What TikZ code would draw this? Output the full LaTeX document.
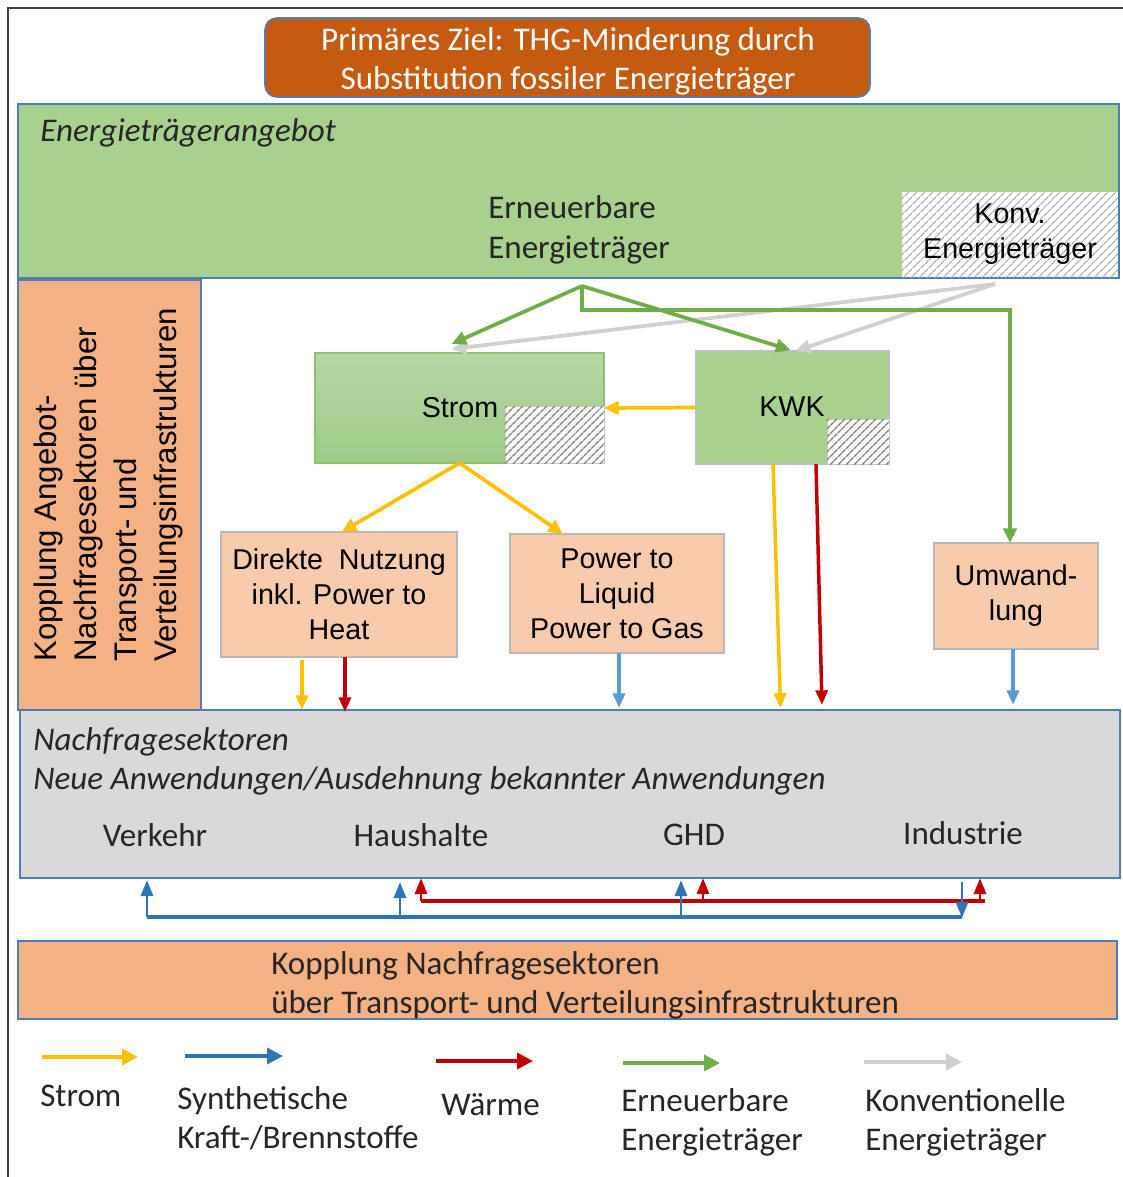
\documentclass[tikz,border=0pt]{standalone}
\usepackage{fontspec}
\setmainfont{Carlito}
\newfontfamily\arialf{Liberation Sans}
\usetikzlibrary{arrows.meta,patterns.meta,calc}
\definecolor{titleor}{HTML}{C55A11}
\definecolor{bblue}{HTML}{4F7DB5}
\definecolor{grn}{HTML}{A9D18E}
\definecolor{grnTop}{HTML}{B5D7A6}
\definecolor{grnBot}{HTML}{9FCA86}
\definecolor{grnB}{HTML}{8DC071}
\definecolor{orL}{HTML}{F4B183}
\definecolor{orP}{HTML}{F8CBAD}
\definecolor{gry}{HTML}{D9D9D9}
\definecolor{cY}{HTML}{FFC000}
\definecolor{cB}{HTML}{2E75B6}
\definecolor{cBl}{HTML}{5B9BD5}
\definecolor{cR}{HTML}{C00000}
\definecolor{cG}{HTML}{70AD47}
\definecolor{cK}{HTML}{D0D0D0}
\definecolor{txt}{HTML}{262626}
\definecolor{hatchc}{HTML}{7F7F7F}
\tikzset{
  box/.style={inner sep=0pt, outer sep=0pt},
  hatch/.style={fill=white, draw=gray!40, line width=0.6pt,
    postaction={pattern={Lines[angle=45,distance=4pt,line width=1.1pt]}, pattern color=hatchc}},
  hatchlight/.style={fill=white,
    postaction={pattern={Lines[angle=45,distance=4pt,line width=0.9pt]}, pattern color=gray!75}},
  cal/.style={font=\fontsize{24.8}{29.25}\selectfont, text=txt, inner sep=0pt},
  calit/.style={font=\fontsize{24.8}{29.25}\selectfont\itshape, text=txt, inner sep=0pt},
  ari/.style={font=\arialf\fontsize{21.5}{26.25}\selectfont, text=black, align=center},
  arr/.style={line width=2.8pt, -{Triangle[length=11pt,width=10pt]}},
  varr/.style={line width=2.6pt, -{Triangle[length=11pt,width=9pt]}},
  barr/.style={line width=2.2pt, -{Triangle[length=12pt,width=9pt]}},
  larr/.style={line width=2.8pt, -{Triangle[length=12pt,width=12pt]}},
}
\newcommand\pbox[7]{\node[box,#6,minimum width={(#4-#2)*0.75pt},minimum height={(#5-#3)*0.75pt}] (#1) at ({(#2+#4)/2},{(#3+#5)/2}) {#7};}
\begin{document}
\begin{tikzpicture}[x=0.75pt,y=-0.75pt]
\useasboundingbox (0,0) rectangle (1123,1177);
% frame
\draw[line width=1.5pt, black!75] (8,1177) -- (8,8) -- (1123,8);
% title
\pbox{title}{265}{18}{870}{97}{draw=bblue, fill=titleor, rounded corners=9pt, line width=1.2pt}{}
\node[text=white, align=center, inner sep=0pt, font=\fontsize{24.8}{29.25}\selectfont] (titlet) at (568,61) {Primäres Ziel: THG-Minderung durch\\Substitution fossiler Energieträger};
% supply
\pbox{supply}{18}{104}{1119}{278}{draw=bblue, fill=grn, line width=1.2pt}{}
\pbox{konv}{902}{192}{1118}{277}{hatchlight, ari, align=center}{Konv.\\Energieträger}
\node[calit, anchor=west] (supplyt) at (40,133) {Energieträgerangebot};
\node[cal, anchor=west, align=left, font=\fontsize{24.8}{30}\selectfont] (eet) at (488,230) {Erneuerbare\\Energieträger};
% left coupling
\pbox{coupA}{18}{280}{201}{710}{draw=bblue, fill=orL, line width=1.2pt}{}
\node[rotate=90, anchor=west, align=left, inner sep=0pt, font=\arialf\fontsize{23.4}{30}\selectfont] (coupAt) at (108,662) {Kopplung Angebot-\\Nachfragesektoren über\\Transport- und\\Verteilungsinfrastrukturen};
% Strom
\pbox{strom}{315}{353}{604}{463}{draw=grnB, top color=grnTop, bottom color=grnBot, line width=0.8pt}{}
\pbox{stromh}{505}{406}{604}{463}{hatch}{}
\node[ari, inner sep=0pt] (stromt) at (460,408) {Strom};
% KWK
\pbox{kwk}{696}{351}{889}{464}{draw=gray!50, fill=grn, line width=0.8pt}{}
\pbox{kwkh}{827}{419}{889}{464}{hatch}{}
\node[ari, inner sep=0pt] (kwkt) at (792,407) {KWK};
% application boxes
\pbox{dir}{221}{532}{457}{657}{draw=gray!55, fill=orP, line width=0.8pt, ari}{Direkte~ Nutzung\\inkl. Power to\\Heat}
\pbox{ptl}{510}{534}{724}{653}{draw=gray!55, fill=orP, line width=0.8pt, ari}{Power to\\Liquid\\Power to Gas}
\pbox{umw}{934}{543}{1098}{649}{draw=gray!55, fill=orP, line width=0.8pt, ari}{Umwand-\\lung}
% demand
\pbox{nf}{20}{710}{1120}{878}{draw=bblue, fill=gry, line width=1.2pt}{}
\node[calit, anchor=west, align=left] (nft) at (33,761.5) {Nachfragesektoren\\Neue Anwendungen/Ausdehnung bekannter Anwendungen};
\node[cal] (verkehr) at (155,835) {Verkehr};
\node[cal] (haush) at (421,835) {Haushalte};
\node[cal] (ghd) at (694,835) {GHD};
\node[cal] (ind) at (963,833) {Industrie};
% bottom coupling
\pbox{coupB}{18}{941}{1117}{1019}{draw=bblue, fill=orL, line width=1.2pt}{}
\node[cal, anchor=west, align=left] (coupBt) at (271,985) {Kopplung Nachfragesektoren\\über Transport- und Verteilungsinfrastrukturen};

% sources
\coordinate (gsrc) at (582,286);
\coordinate (ksrc) at (995,284);
% grey arrows
\draw[arr, cK] (ksrc) -- ([shift={(-8,-4)}]strom.north);
\draw[arr, cK] (ksrc) -- ([shift={(3,0)}]kwk.north);
% green arrows
\draw[arr, cG] (gsrc) -- ([shift={(-8,-9)}]strom.north);
\draw[arr, cG] (gsrc) -- ([shift={(-2,-1)}]kwk.north);
\draw[arr, cG] (gsrc) -- ++(0,24) -| ([xshift=-4.5pt]umw.north);
% yellow
\draw[arr, cY] (kwk.west) -- (strom.east);
\draw[arr, cY] (strom.south) -- ([xshift=2pt]dir.north);
\draw[arr, cY] (strom.south) -- ([xshift=-40.5pt]ptl.north);
% into demand
\coordinate (dY) at ([shift={(-37,3)}]dir.south);
\coordinate (dR) at ([xshift=4.5pt]dir.south);
\coordinate (pB) at ([xshift=1.5pt]ptl.south);
\coordinate (kYs) at ([xshift=-14.6pt]kwk.south);
\coordinate (kYe) at ($(kwk.south |- nf.north)+(-12,-2)$);
\coordinate (kRs) at ([xshift=17.6pt]kwk.south);
\coordinate (kRe) at ($(kwk.south |- nf.north)+(29.5,-5)$);
\coordinate (uB) at ([xshift=-2.25pt]umw.south);
\draw[varr, cY] (dY) -- (dY |- nf.north);
\draw[varr, cR] (dR) -- ($(dR |- nf.north)+(0,2)$);
\draw[varr, cBl] (pB) -- ($(pB |- nf.north)+(0,-2)$);
\draw[varr, cY] (kYs) -- (kYe);
\draw[varr, cR] (kRs) -- (kRe);
\draw[varr, cBl] (uB) -- ($(uB |- nf.north)+(0,-5)$);

% bottom couplings
\coordinate (b1) at (147,917);
\coordinate (b2) at (400,917);
\coordinate (b3) at (681,917);
\coordinate (b4) at (962,917);
\coordinate (r1) at (421,901);
\coordinate (r2) at (703,901);
\coordinate (r3) at (980,901);
\coordinate (rE) at (985,901);
\draw[line width=3pt, cR] (r1) -- (rE);
\draw[line width=3pt, cB] (b1) -- (b4);
\draw[barr, cB] (b1) -- ($(b1 |- nf.south)+(0,2)$);
\draw[barr, cB] (b2) -- ($(b2 |- nf.south)+(0,4)$);
\draw[barr, cB] (b3) -- ($(b3 |- nf.south)+(0,2)$);
\draw[barr, cB] ($(b4 |- nf.south)+(0,4)$) -- ($(b4)+(0,1)$);
\draw[barr, cR] (r1) -- (r1 |- nf.south);
\draw[barr, cR] (r2) -- (r2 |- nf.south);
\draw[barr, cR] (r3) -- (r3 |- nf.south);

% legend
\coordinate (ly1) at (42,1057); \coordinate (ly2) at (138,1057);
\coordinate (lb1) at (185,1056); \coordinate (lb2) at (283,1056);
\coordinate (lr1) at (436,1061); \coordinate (lr2) at (533,1061);
\coordinate (lg1) at (623,1063); \coordinate (lg2) at (720,1063);
\coordinate (lk1) at (864,1062); \coordinate (lk2) at (962,1062);
\draw[larr, cY] (ly1) -- (ly2);
\draw[larr, cB] (lb1) -- (lb2);
\draw[larr, cR] (lr1) -- (lr2);
\draw[larr, cG] (lg1) -- (lg2);
\draw[larr, cK] (lk1) -- (lk2);
\node[cal, anchor=west] (lyt) at (40,1096) {Strom};
\node[cal, anchor=west, align=left] (lbt) at (177,1118) {Synthetische\\Kraft-/Brennstoffe};
\node[cal, anchor=west] (lrt) at (441,1105) {Wärme};
\node[cal, anchor=west, align=left] (lgt) at (621,1122.5) {Erneuerbare\\Energieträger};
\node[cal, anchor=west, align=left] (lkt) at (865,1122.5) {Konventionelle\\Energieträger};
\end{tikzpicture}
\end{document}
